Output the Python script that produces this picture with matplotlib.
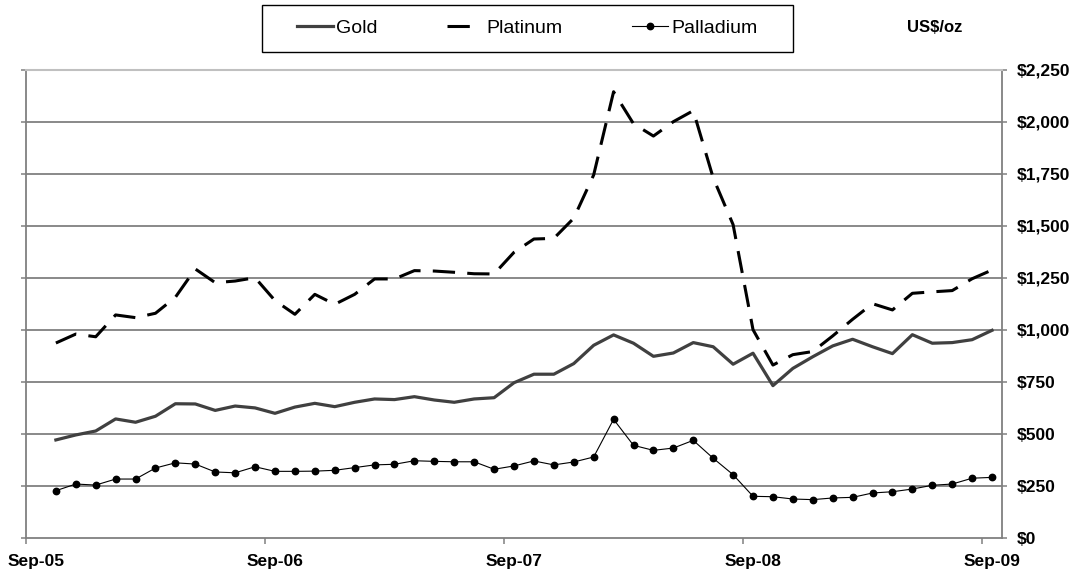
import numpy as np
import pandas as pd
import matplotlib
matplotlib.use('Agg')
import matplotlib.pyplot as plt
from matplotlib.patches import Rectangle
from matplotlib.ticker import FuncFormatter

plt.rcParams['font.family'] = ['Liberation Sans', 'DejaVu Sans']

# --- Monthly average prices, US$/oz (Oct-05 .. Sep-09) ---
months = pd.period_range('2005-10', '2009-09', freq='M')

gold = [470, 494, 513, 571, 555, 584, 644, 643, 612, 633, 624, 598,
        628, 646, 630, 651, 667, 664, 678, 662, 651, 667, 673, 745,
        786, 786, 837, 925, 975, 935, 872, 888, 938, 918, 834, 887,
        731, 814, 870, 922, 954, 918, 885, 976, 935, 938, 952, 997]

platinum = [936, 979, 966, 1071, 1058, 1079, 1156, 1292, 1226, 1234, 1250, 1140,
            1074, 1170, 1122, 1170, 1244, 1244, 1284, 1282, 1276, 1269, 1268, 1372,
            1436, 1439, 1536, 1744, 2144, 1990, 1931, 2000, 2053, 1730, 1505, 1000,
            830, 880, 895, 970, 1050, 1125, 1095, 1175, 1182, 1188, 1245, 1287]

palladium = [226, 258, 253, 282, 282, 335, 360, 354, 316, 312, 341, 319,
             319, 320, 324, 337, 350, 353, 370, 367, 365, 365, 329, 345,
             369, 350, 364, 388, 569, 444, 420, 431, 468, 382, 303, 199,
             197, 186, 183, 191, 194, 215, 221, 234, 252, 258, 286, 290]

year_labels = ['Sep-05', 'Sep-06', 'Sep-07', 'Sep-08', 'Sep-09']

# --- x positions: months since Sep-05, each value plotted mid-month ---
start = pd.Period('2005-09', freq='M')
x = np.array([(m - start).n for m in months]) + 0.5
year_pos = np.array([(pd.Period(pd.to_datetime(l, format='%b-%y'), freq='M') - start).n
                     for l in year_labels])

W, H = 1075, 571
fig = plt.figure(figsize=(W / 100, H / 100), dpi=100)
ax = fig.add_axes([26 / W, (H - 537.7) / H, 976 / W, 468 / H])

grid_col = '#808080'
ax.plot(x, gold, color='#404040', lw=2.3, label='Gold', zorder=3)
ax.plot(x, platinum, color='black', lw=2.2, dashes=(7.3, 4.0), label='Platinum', zorder=3)
ax.plot(x, palladium, color='black', lw=0.8, marker='o', ms=4.6, label='Palladium', zorder=4)

ax.set_xlim(0, 49)
ax.set_ylim(0, 2250)

# y axis: labels on the right, short ticks on both sides
yticks = np.arange(0, 2251, 250)
ax.set_yticks(yticks)
ax.yaxis.set_major_formatter(FuncFormatter(lambda v, p: '${:,.0f}'.format(v)))
ax.tick_params(axis='y', left=True, right=True, labelleft=False, labelright=True,
               direction='out', length=3.5, width=1.1, color=grid_col, pad=7)
for t in ax.get_yticklabels():
    t.set_fontweight('bold')
    t.set_fontsize(12.5)

for v in yticks[1:-1]:
    ax.axhline(v, color=grid_col, lw=1.3, zorder=1)

# x axis: tick marks at year boundaries, labels a half month to the right
ax.set_xticks(year_pos + 0.5)
ax.set_xticklabels(year_labels, fontweight='bold', fontsize=12.5)
ax.set_xticks(year_pos, minor=True)
ax.tick_params(axis='x', which='major', length=0, pad=12)
ax.tick_params(axis='x', which='minor', direction='out', length=4, width=1.1, color=grid_col)

for side in ['left', 'right', 'bottom']:
    ax.spines[side].set_color(grid_col)
    ax.spines[side].set_linewidth(1.3)
ax.spines['top'].set_color('#c0c0c0')
ax.spines['top'].set_linewidth(1.5)

# legend box across the top
fig.add_artist(Rectangle((262 / W, (H - 52) / H), 531 / W, 47 / H,
                         transform=fig.transFigure, fill=False, ec='black', lw=1.0))
leg = fig.legend(loc='center', bbox_to_anchor=(527 / W, 1 - 28.5 / H), ncol=3, frameon=False,
                 fontsize=14, handlelength=1.85, handletextpad=0.15, columnspacing=3.6)
leg.get_lines()[1].set_dashes((7.3, 20))

fig.text(935 / W, 1 - 28 / H, 'US$/oz', fontweight='bold', fontsize=12, ha='center', va='center')

fig.savefig('out.png', dpi=100)
